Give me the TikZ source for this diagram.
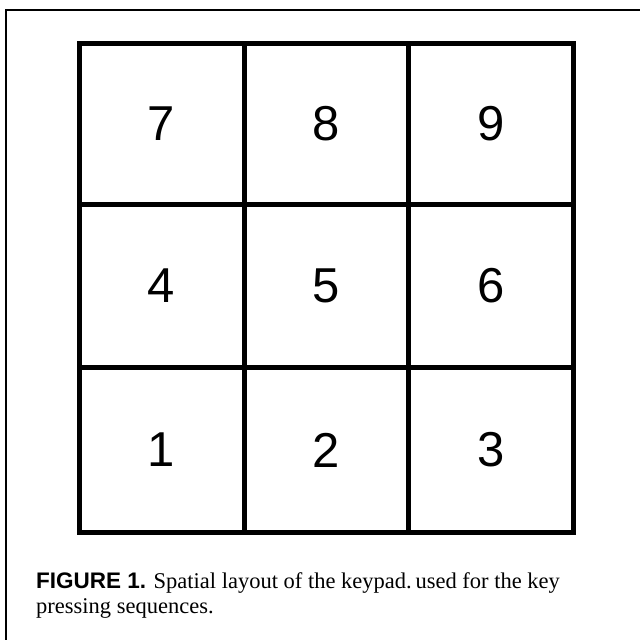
\documentclass[tikz,border=0pt]{standalone}
\usepackage{fontspec}
\setmainfont{Liberation Serif}
\newfontfamily\keyfont{Liberation Sans}
\tikzset{
  gridline/.style={line width=5pt, line cap=rect},
  frameline/.style={line width=2pt},
  keylabel/.style={font=\keyfont\fontsize{49}{49}\selectfont, inner sep=0pt},
  captext/.style={font=\fontsize{22.5}{26}\selectfont, inner sep=0pt, anchor=base west},
}
\begin{document}
\begin{tikzpicture}[x=1pt,y=-1pt]
\useasboundingbox (0,0) rectangle (640,640);
% outer frame (only top and left visible)
\coordinate (ftl) at (6,10);
\coordinate (ftr) at (640,10);
\coordinate (fbl) at (6,640);
\draw[frameline] (ftr) -- (ftl) -- (fbl);
% grid
\draw[gridline] (79,43) rectangle (573,532);
\draw[gridline] (244,43) -- (244,532);
\draw[gridline] (408.5,43) -- (408.5,532);
\draw[gridline] (79,204.5) -- (573,204.5);
\draw[gridline] (79,367.5) -- (573,367.5);
% keys
\node[keylabel] (k7) at (161.5,124) {7};
\node[keylabel] (k8) at (326,124) {8};
\node[keylabel] (k9) at (491,124) {9};
\node[keylabel] (k4) at (161.5,286) {4};
\node[keylabel] (k5) at (326,286) {5};
\node[keylabel] (k6) at (491,286) {6};
\node[keylabel] (k1) at (161.5,450) {1};
\node[keylabel] (k2) at (326,450) {2};
\node[keylabel] (k3) at (491,450) {3};
% caption
\node[captext] (cap1) at (36,588) {{\keyfont\bfseries FIGURE 1.} Spatial layout of the keypad.\,used for the key};
\node[captext] (cap2) at (36,613) {pressing sequences.};
\end{tikzpicture}
\end{document}
